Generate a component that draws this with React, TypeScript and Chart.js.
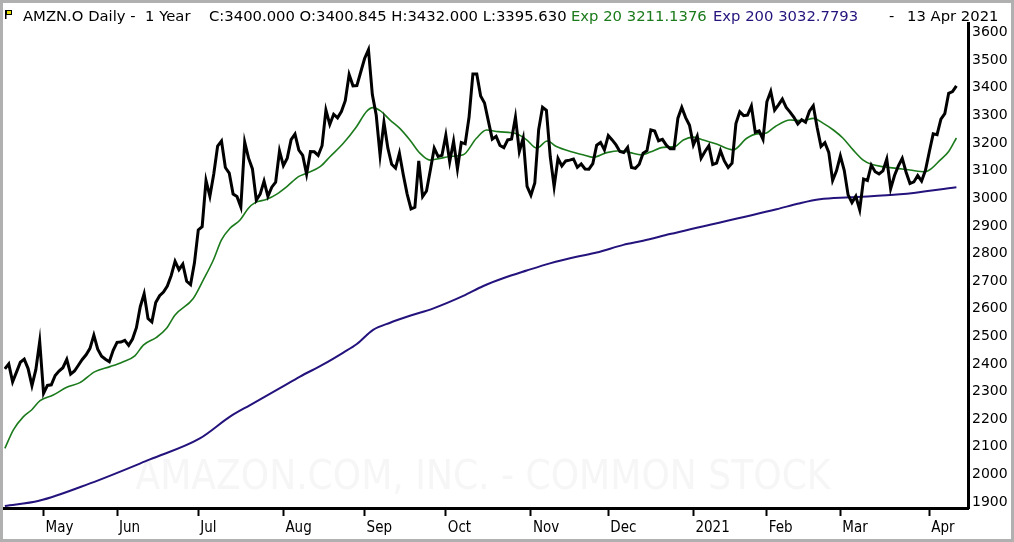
import { useEffect, useRef } from "react";
import { Chart, registerables, type ChartConfiguration, type Plugin } from "chart.js";

Chart.register(...registerables);

// daily closes, 17 Apr 2020 .. 13 Apr 2021 (one bar per trading day shown in the chart)
const closes = [
  2375, 2393, 2328, 2363, 2399, 2410, 2376, 2314, 2372, 2474,
  2286, 2315, 2317, 2351, 2367, 2379, 2409, 2356, 2367, 2388, 2409, 2426, 2449, 2497, 2446, 2421, 2410, 2401, 2442,
  2471, 2472, 2478, 2460, 2483, 2524, 2600, 2647, 2557, 2545, 2615, 2640, 2653, 2675, 2713, 2764, 2734, 2754, 2692, 2680, 2758,
  2878, 2890, 3057, 3000, 3081, 3182, 3200, 3104, 3084, 3008, 2999, 2961, 3196, 3138, 3099, 2986, 3008, 3055, 3000, 3033, 3051, 3164,
  3111, 3138, 3205, 3225, 3167, 3148, 3080, 3162, 3161, 3148, 3183, 3312, 3260, 3297, 3284, 3307, 3346, 3441, 3400, 3401, 3450,
  3499, 3531, 3368, 3294, 3149, 3268, 3175, 3116, 3102, 3156, 3078, 3008, 2954, 2960, 3128, 2999, 3019, 3095, 3174, 3144, 3148,
  3221, 3125, 3199, 3099, 3195, 3190, 3286, 3443, 3443, 3363, 3338, 3272, 3207, 3217, 3184, 3176, 3204, 3207, 3286, 3162, 3211, 3036,
  3004, 3048, 3241, 3322, 3311, 3143, 3035, 3137, 3110, 3128, 3131, 3135, 3105, 3117, 3099, 3098, 3118, 3185, 3195, 3168,
  3220, 3204, 3186, 3162, 3158, 3177, 3104, 3101, 3116, 3156, 3165, 3240, 3236, 3201, 3206, 3185, 3172, 3172, 3283, 3322, 3285, 3257,
  3186, 3218, 3138, 3162, 3183, 3115, 3120, 3165, 3128, 3104, 3120, 3263, 3306, 3292, 3294, 3327, 3232, 3237, 3206,
  3342, 3380, 3312, 3331, 3352, 3322, 3305, 3286, 3262, 3277, 3268, 3308, 3328, 3249, 3180, 3194, 3159, 3057, 3092,
  3146, 3094, 3005, 2977, 3000, 2951, 3062, 3057, 3113, 3089, 3081, 3092, 3135, 3027, 3075, 3110, 3137, 3087, 3046, 3052, 3075, 3055, 3094,
  3161, 3226, 3223, 3279, 3299, 3373, 3379, 3400
];

// Exp 20 (bar position, value)
const ema20Idx = [
  0, 2.2, 4.8, 6.9, 9.1, 12.5, 16, 19.4, 23.3, 27.2, 30.6, 33.6, 35.8, 39.2, 41.8, 44,
  48.7, 51.3, 53.9, 56, 58.2, 60.8, 62.9, 64.7, 67.7, 70.3, 72.9, 75.9, 78, 81.5, 84.1,
  87.5, 90.9, 93.5, 95.1, 97, 99.6, 102.1, 104.7, 107.3, 109.9, 112.5, 115.1, 118.5, 121.9, 124.5, 127.5,
  132.3, 134.9, 137.5, 140.2, 142.6, 146.2, 149.5, 152.1, 155.6, 159, 161.6, 164.6,
  166.8, 170.2, 173.2, 175.4, 178, 180.6, 184, 188.3, 191.8, 194.4, 196.6, 199.1, 203, 206.4, 209,
  211.6, 214.2, 216.7, 219.3, 221.9, 224, 227.1, 230.6, 234, 237.9, 239.6, 241.8, 244, 246
];
const ema20Values = [
  2087, 2154, 2202, 2226, 2260, 2280, 2308, 2325, 2365, 2383, 2401, 2422, 2461, 2489, 2522, 2570,
  2630, 2697, 2769, 2842, 2884, 2914, 2956, 2977, 2989, 3008, 3035, 3071, 3083, 3107, 3144,
  3192, 3252, 3307, 3321, 3310, 3276, 3246, 3204, 3156, 3131, 3137, 3144, 3150, 3210, 3240, 3234,
  3226, 3204, 3174, 3200, 3180, 3162, 3150, 3141, 3158, 3165, 3158, 3150,
  3160, 3177, 3180, 3204, 3214, 3204, 3189, 3168, 3210, 3226, 3228, 3252, 3276, 3274, 3282,
  3264, 3240, 3210, 3168, 3131, 3116, 3107, 3101, 3095, 3089, 3101, 3131, 3162, 3211
];

// Exp 200
const ema200Idx = [
  0, 8.8, 22, 37.5, 50.4, 58.2, 63.4, 71.1, 76.3, 82.3, 87.5, 91, 95.2, 99.6, 104.7, 110.8,
  118.5, 123.7, 128.8, 134.9, 140.9, 147.8, 153, 159.9, 165, 171.9, 199.5, 205.6, 210.7, 218.5, 231.4, 246
];
const ema200Values = [
  1878, 1897, 1960, 2047, 2123, 2202, 2244, 2305, 2347, 2391, 2434, 2465, 2516, 2542, 2567, 2594,
  2639, 2675, 2703, 2731, 2757, 2781, 2796, 2824, 2839, 2863, 2953, 2975, 2989, 2996, 3007, 3033
];

const monthTickIdx = [10, 29, 50, 72, 93, 114, 136, 156, 178, 197, 216, 239];
const monthLabels = ["May", "Jun", "Jul", "Aug", "Sep", "Oct", "Nov", "Dec", "2021", "Feb", "Mar", "Apr"];
const priceTicks = [1900, 2000, 2100, 2200, 2300, 2400, 2500, 2600, 2700, 2800, 2900, 3000, 3100, 3200, 3300, 3400, 3500, 3600];

const WATERMARK = "AMAZON.COM, INC. - COMMON STOCK";
const GREEN = "#1b7a1b";
const PURPLE = "#24137c";

const decorPlugin: Plugin<"line"> = {
  id: "decor",
  beforeDatasetsDraw(chart) {
    const { ctx } = chart;
    ctx.save();
    ctx.font = '40px "Liberation Sans Narrow", "DejaVu Sans Condensed", sans-serif';
    ctx.fillStyle = "#f6f6f6";
    ctx.textBaseline = "middle";
    const w = ctx.measureText(WATERMARK).width;
    const target = 695;
    ctx.translate(483 - target / 2, 479);
    ctx.scale(target / w, 1);
    ctx.fillText(WATERMARK, 0, 0);
    ctx.restore();
  },
  afterDraw(chart) {
    const { ctx, width, height } = chart;
    ctx.save();

    // header line
    ctx.font = '14.8px "DejaVu Sans", sans-serif';
    ctx.textBaseline = "alphabetic";
    const parts: [string, string, number][] = [
      ["AMZN.O Daily -  1 Year", "#000", 23],
      ["C:3400.000 O:3400.845 H:3432.000 L:3395.630", "#000", 209],
      ["Exp 20 3211.1376", GREEN, 571],
      ["Exp 200 3032.7793", PURPLE, 713],
      ["-", "#000", 889],
      ["13 Apr 2021", "#000", 907]
    ];
    for (const [text, color, x] of parts) {
      ctx.fillStyle = color;
      ctx.fillText(text, x, 21);
    }

    // little yellow flag
    ctx.fillStyle = "#e8e000";
    ctx.fillRect(6, 10, 6, 5);
    ctx.strokeStyle = "#000";
    ctx.lineWidth = 1;
    ctx.strokeRect(6.5, 10.5, 5, 4);
    ctx.fillStyle = "#000";
    ctx.fillRect(5, 10, 1.5, 9);

    // window frame
    ctx.strokeStyle = "#b0b0b0";
    ctx.lineWidth = 3;
    ctx.strokeRect(1.5, 1.5, width - 3, height - 3);
    ctx.restore();
  }
};

export default function App() {
  const canvasRef = useRef<HTMLCanvasElement | null>(null);
  const chartRef = useRef<Chart<"line"> | null>(null);

  useEffect(() => {
    document.body.style.margin = "0";
    const canvas = canvasRef.current;
    if (!canvas) {
      return;
    }

    const config: ChartConfiguration<"line"> = {
      type: "line",
      data: {
        datasets: [
          {
            label: "Close",
            data: closes.map((y, x) => ({ x, y })),
            borderColor: "#000",
            borderWidth: 3,
            pointRadius: 0,
            tension: 0
          },
          {
            label: "Exp 20",
            data: ema20Idx.map((x, i) => ({ x, y: ema20Values[i] })),
            borderColor: GREEN,
            borderWidth: 1.6,
            pointRadius: 0,
            cubicInterpolationMode: "monotone"
          },
          {
            label: "Exp 200",
            data: ema200Idx.map((x, i) => ({ x, y: ema200Values[i] })),
            borderColor: PURPLE,
            borderWidth: 2,
            pointRadius: 0,
            cubicInterpolationMode: "monotone"
          }
        ]
      },
      options: {
        responsive: false,
        animation: false,
        layout: {
          padding: { top: 23, left: 4, right: 0, bottom: 0 }
        },
        plugins: {
          legend: { display: false },
          tooltip: { enabled: false }
        },
        scales: {
          x: {
            type: "linear",
            position: "bottom",
            min: -0.23,
            max: 249,
            border: { display: true, color: "#000", width: 3 },
            grid: {
              display: true,
              drawOnChartArea: false,
              drawTicks: true,
              tickLength: 8,
              tickWidth: 2,
              tickColor: "#000"
            },
            afterBuildTicks: (scale) => {
              scale.ticks = monthTickIdx.map((value) => ({ value }));
            },
            afterFit: (scale) => {
              scale.height = 34;
            },
            ticks: {
              autoSkip: false,
              maxRotation: 0,
              align: "start",
              labelOffset: 2,
              padding: 3,
              color: "#000",
              font: { family: '"Liberation Sans Narrow", "DejaVu Sans Condensed", sans-serif', size: 15 },
              callback: (_value, index) => monthLabels[index]
            }
          },
          y: {
            type: "linear",
            position: "right",
            min: 1871,
            max: 3627.5,
            border: { display: true, color: "#000", width: 3 },
            grid: { display: false, drawTicks: false },
            afterBuildTicks: (scale) => {
              scale.ticks = priceTicks.map((value) => ({ value }));
            },
            afterFit: (scale) => {
              scale.width = 46;
            },
            ticks: {
              padding: 4,
              labelOffset: 2,
              color: "#000",
              font: { family: '"DejaVu Sans", sans-serif', size: 14 },
              callback: (value) => String(value)
            }
          }
        }
      },
      plugins: [decorPlugin]
    };

    chartRef.current?.destroy();
    chartRef.current = new Chart(canvas, config);

    return () => {
      chartRef.current?.destroy();
      chartRef.current = null;
    };
  }, []);

  return (
    <div style={{ width: 1014, height: 542, background: "#fff" }}>
      <canvas ref={canvasRef} width={1014} height={542} style={{ display: "block" }} />
    </div>
  );
}
